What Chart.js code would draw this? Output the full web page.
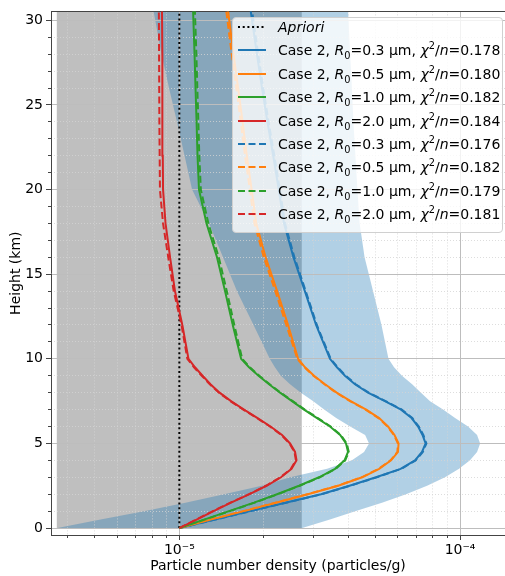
<!DOCTYPE html>
<html>
<head>
<meta charset="utf-8">
<script src="https://cdn.jsdelivr.net/npm/chart.js@4.4.1/dist/chart.umd.min.js"></script>
<style>
  html, body { margin: 0; padding: 0; background: #fff; }
  #wrap { position: relative; width: 505px; height: 576px; }
  #chart { display: block; }
  #legend {
    position: absolute; left: 232px; top: 17px; width: 271px; height: 216px;
    box-sizing: border-box; background: rgba(255, 255, 255, 0.8);
    border: 1px solid #d0d0d0; border-radius: 4px;
    font-family: "DejaVu Sans", sans-serif; font-size: 14px; color: #000;
  }
  .item { position: absolute; left: 0; width: 100%; height: 20px; white-space: nowrap; }
  .item svg { position: absolute; left: 4px; top: 0; }
  .item span { position: absolute; left: 45px; top: 0; line-height: 20px; }
  .item sub, .item sup { font-size: 70%; line-height: 0; }
</style>
</head>
<body>
<div id="wrap">
  <canvas id="chart" width="505" height="576"></canvas>
  <div id="legend"></div>
</div>
<script>
// ---- data (profile values in units of 1e-5 particles/g) ----
const unit = 1e-5;
const heights = [0, 0.5, 1, 1.5, 2, 2.5, 3, 3.5, 4, 4.5, 5, 5.5, 6, 6.5, 7, 7.5, 8, 8.5, 9, 9.5, 10,
                 12, 14, 16, 18, 20, 22, 24, 26, 28, 31];
const apriori = 1.0;

const solid03 = [1.00, 1.337, 1.786, 2.388, 3.197, 4.04, 5.02, 6.14, 6.91, 7.32, 7.54, 7.35, 7.09, 6.72, 6.165, 5.40, 4.70, 4.224, 3.89, 3.644, 3.44,
                 3.07, 2.80, 2.55, 2.36, 2.26, 2.16, 2.06, 1.97, 1.89, 1.78];
const solid05 = [1.00, 1.297, 1.70, 2.21, 2.87, 3.68, 4.48, 5.15, 5.68, 6.01, 6.04, 5.84, 5.54, 5.15, 4.63, 4.076, 3.635, 3.304, 3.019, 2.804, 2.65,
                 2.44, 2.23, 2.03, 1.88, 1.81, 1.74, 1.68, 1.62, 1.56, 1.48];
const solid10 = [1.00, 1.225, 1.503, 1.845, 2.229, 2.670, 3.146, 3.587, 3.877, 3.99, 3.925, 3.74, 3.44, 3.095, 2.782, 2.520, 2.285, 2.087, 1.915, 1.771, 1.66,
                 1.55, 1.455, 1.362, 1.25, 1.175, 1.161, 1.152, 1.142, 1.133, 1.117];
const solid20 = [1.00, 1.152, 1.324, 1.528, 1.779, 2.045, 2.303, 2.51, 2.615, 2.584, 2.480, 2.322, 2.113, 1.900, 1.700, 1.528, 1.391, 1.291, 1.21, 1.137, 1.078,
                 1.025, 0.965, 0.927, 0.893, 0.875, 0.873, 0.871, 0.870, 0.869, 0.867];

const dashed03 = [1.00, 1.345, 1.797, 2.402, 3.216, 4.064, 5.05, 6.18, 6.95, 7.37, 7.59, 7.40, 7.13, 6.76, 6.20, 5.43, 4.73, 4.25, 3.915, 3.666, 3.46,
                  3.09, 2.82, 2.57, 2.38, 2.28, 2.18, 2.08, 1.99, 1.91, 1.80];
const dashed05 = [1.00, 1.29, 1.692, 2.199, 2.856, 3.662, 4.458, 5.124, 5.652, 5.98, 6.01, 5.81, 5.512, 5.124, 4.607, 4.056, 3.617, 3.288, 3.004, 2.79, 2.633,
                  2.405, 2.197, 2.0, 1.852, 1.783, 1.714, 1.655, 1.596, 1.537, 1.458];
const dashed10 = [1.00, 1.232, 1.512, 1.856, 2.242, 2.686, 3.165, 3.608, 3.90, 4.014, 3.949, 3.762, 3.461, 3.114, 2.799, 2.535, 2.299, 2.10, 1.928, 1.784, 1.675,
                  1.57, 1.476, 1.382, 1.269, 1.193, 1.178, 1.169, 1.159, 1.15, 1.134];
const dashed20 = [1.00, 1.146, 1.317, 1.52, 1.77, 2.035, 2.291, 2.497, 2.602, 2.571, 2.468, 2.31, 2.102, 1.89, 1.69, 1.52, 1.384, 1.284, 1.202, 1.128, 1.068,
                  1.018, 0.955, 0.913, 0.875, 0.853, 0.851, 0.849, 0.848, 0.847, 0.845];

// spread envelope (left and right edge of the shaded band)
const bandLow  = [0.367, 0.524, 0.748, 1.051, 1.443, 1.966, 2.486, 3.36, 4.12, 4.55, 4.74, 4.59, 4.06, 3.62, 3.28, 3.00, 2.71, 2.48, 2.30, 2.19, 2.10,
                  1.838, 1.605, 1.431, 1.276, 1.110, 1.044, 0.981, 0.919, 0.864, 0.800];
const bandHigh = [2.735, 3.44, 4.23, 5.27, 6.42, 7.63, 8.84, 9.92, 10.85, 11.50, 11.79, 11.50, 10.68, 9.60, 8.70, 7.82, 7.26, 6.75, 6.21, 5.82, 5.56,
                  5.25, 4.90, 4.57, 4.39, 4.31, 4.24, 4.17, 4.12, 4.06, 3.98];
const grayRange = [0.366, 2.73];

const radii = ['0.3', '0.5', '1.0', '2.0'];
const chiSolid = ['0.178', '0.180', '0.182', '0.184'];
const chiDashed = ['0.176', '0.182', '0.179', '0.181'];

const xMajorTicks = [1e-5, 1e-4];
const xMajorLabels = ['10\u207B\u2075', '10\u207B\u2074'];
const xMinorTicks = [4e-6, 5e-6, 6e-6, 7e-6, 8e-6, 9e-6, 2e-5, 3e-5, 4e-5, 5e-5, 6e-5, 7e-5, 8e-5, 9e-5];
const yMajorTicks = [0, 5, 10, 15, 20, 25, 30];
const yTickLabels = ['0', '5', '10', '15', '20', '25', '30'];
const yMinorTicks = [1, 2, 3, 4, 6, 7, 8, 9, 11, 12, 13, 14, 16, 17, 18, 19, 21, 22, 23, 24, 26, 27, 28, 29];

// ---- styling ----
const colors = ['#1f77b4', '#ff7f0e', '#2ca02c', '#d62728'];
const X_MIN = 3.49e-6, X_MAX = 1.446e-4, Y_MIN = -0.41, Y_MAX = 30.53;
const SPINE = '#444';
const DASH = [7, 3.5], DOT = [2, 2.7];

Chart.defaults.font.family = "'DejaVu Sans', sans-serif";
Chart.defaults.font.size = 14;
Chart.defaults.color = '#000';

function profile(vals) {
  return vals.map((v, i) => ({ x: v * unit, y: heights[i] }));
}
function caseLabel(k, chi) {
  return 'Case 2, <i>R</i><sub>0</sub>=' + radii[k] + ' µm, <i>χ</i><sup>2</sup>/<i>n</i>=' + chi[k];
}

const solids = [solid03, solid05, solid10, solid20];
const dasheds = [dashed03, dashed05, dashed10, dashed20];

const datasets = [{
  legendHtml: '<i>Apriori</i>',
  data: heights.map(h => ({ x: apriori * unit, y: h })),
  borderColor: '#000', borderWidth: 2, borderDash: DOT, order: 20
}];
solids.forEach((s, k) => datasets.push({
  legendHtml: caseLabel(k, chiSolid), data: profile(s),
  borderColor: colors[k], borderWidth: 2, order: 19 - k
}));
dasheds.forEach((s, k) => datasets.push({
  legendHtml: caseLabel(k, chiDashed), data: profile(s),
  borderColor: colors[k], borderWidth: 2, borderDash: DASH, order: 15 - k
}));
// shaded regions (drawn under the grid by the filler plugin)
datasets.push(
  { data: profile(bandLow), fill: '+1', backgroundColor: 'rgba(31,119,180,0.35)', borderWidth: 0, borderColor: 'transparent', order: 98 },
  { data: profile(bandHigh), fill: false, borderWidth: 0, borderColor: 'transparent', order: 99 },
  { data: [{ x: grayRange[1] * unit, y: heights[0] }, { x: grayRange[1] * unit, y: heights[heights.length - 1] }],
    fill: { value: grayRange[0] * unit }, backgroundColor: 'rgba(128,128,128,0.5)', borderWidth: 0, borderColor: 'transparent', order: 100 }
);

const majorGrid = { color: '#bdbdbd', lineWidth: 1, drawTicks: true, tickLength: 5, tickColor: SPINE, tickWidth: 1 };
const minorGrid = { color: '#d4d4d4', lineWidth: 0.8, drawTicks: true, tickLength: 3, tickColor: SPINE, tickWidth: 1 };

const chart = new Chart(document.getElementById('chart'), {
  type: 'line',
  data: { datasets },
  options: {
    indexAxis: 'y',
    responsive: false,
    animation: false,
    events: [],
    layout: { padding: { top: 8, left: 0, right: 0, bottom: 0 } },
    datasets: { line: { clip: 0 } },
    elements: { point: { radius: 0 }, line: { tension: 0 } },
    plugins: {
      legend: { display: false },
      tooltip: { enabled: false },
      filler: { drawTime: 'beforeDraw', propagate: false }
    },
    scales: {
      x: {
        type: 'logarithmic', position: 'bottom', min: X_MIN, max: X_MAX, weight: 1,
        afterBuildTicks: s => { s.ticks = xMajorTicks.map(v => ({ value: v, major: true })); },
        afterFit: s => { s.height = 41; },
        ticks: { autoSkip: false, maxRotation: 0, padding: 2, callback: (v, i) => xMajorLabels[i] },
        grid: majorGrid,
        border: { display: true, color: SPINE, width: 1 },
        title: { display: true, text: 'Particle number density (particles/g)', padding: { top: 0, bottom: 1 } }
      },
      xm: {
        type: 'logarithmic', axis: 'x', position: 'bottom', min: X_MIN, max: X_MAX, weight: 0, display: true,
        afterBuildTicks: s => { s.ticks = xMinorTicks.map(v => ({ value: v })); },
        afterFit: s => { s.height = 0; },
        ticks: { display: false },
        grid: minorGrid,
        border: { display: false, dash: [1, 2] }
      },
      xt: {
        type: 'logarithmic', axis: 'x', position: 'top', min: X_MIN, max: X_MAX, display: true,
        afterFit: s => { s.height = 0; },
        ticks: { display: false },
        grid: { display: false, drawTicks: false },
        border: { display: true, color: SPINE, width: 1 }
      },
      y: {
        type: 'linear', position: 'left', min: Y_MIN, max: Y_MAX, weight: 1,
        afterBuildTicks: s => { s.ticks = yMajorTicks.map(v => ({ value: v })); },
        afterFit: s => { s.width = 51; },
        ticks: { padding: 3, callback: (v, i) => yTickLabels[i] },
        grid: majorGrid,
        border: { display: true, color: SPINE, width: 1 },
        title: { display: true, text: 'Height (km)', padding: { top: 8, bottom: 0 } }
      },
      ym: {
        type: 'linear', axis: 'y', position: 'left', min: Y_MIN, max: Y_MAX, weight: 0, display: true,
        afterBuildTicks: s => { s.ticks = yMinorTicks.map(v => ({ value: v })); },
        afterFit: s => { s.width = 0; },
        ticks: { display: false },
        grid: minorGrid,
        border: { display: false, dash: [1, 2] }
      }
    }
  }
});

// legend built from the datasets
const legendEl = document.getElementById('legend');
chart.data.datasets.filter(d => d.legendHtml).forEach((d, i) => {
  const row = document.createElement('div');
  row.className = 'item';
  row.style.top = (-1 + i * 23.4) + 'px';
  const dash = d.borderDash ? d.borderDash.join(' ') : 'none';
  row.innerHTML = '<svg width="30" height="20"><line x1="1" y1="10" x2="29" y2="10" stroke="' + d.borderColor +
    '" stroke-width="2" stroke-dasharray="' + dash + '"/></svg><span>' + d.legendHtml + '</span>';
  legendEl.appendChild(row);
});
</script>
</body>
</html>
